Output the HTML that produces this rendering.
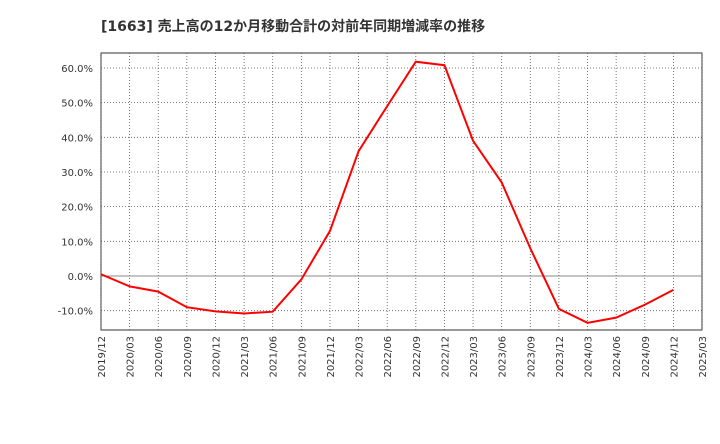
<!DOCTYPE html>
<html><head><meta charset="utf-8"><style>
body{margin:0;background:#fff;font-family:"DejaVu Sans","Noto Sans CJK JP",sans-serif;}
svg text{font-family:"DejaVu Sans","Noto Sans CJK JP",sans-serif;}
</style></head><body>
<svg id="c" width="720" height="440">
<text x="101" y="31" font-size="14" font-weight="bold" fill="#333">[1663]  売上高の12か月移動合計の対前年同期増減率の推移</text>
<rect x="101" y="53" width="601" height="277" fill="#fff" stroke="#333" stroke-width="1"/>
<g id="grid"></g><g id="ax"></g><g id="ser"></g>
</svg>
<script>
const categories=["2019/12","2020/03","2020/06","2020/09","2020/12","2021/03","2021/06","2021/09","2021/12","2022/03","2022/06","2022/09","2022/12","2023/03","2023/06","2023/09","2023/12","2024/03","2024/06","2024/09","2024/12","2025/03"];
const values=[0.5,-3,-4.5,-9,-10.2,-10.8,-10.3,-1,13,36,49,61.8,60.8,39,27,8,-9.5,-13.5,-12,-8.3,-4];
const yTicks=[-10,0,10,20,30,40,50,60];
const ns="http://www.w3.org/2000/svg";
const X0=101,X1=702,Y0=53,Y1=330;
const x=i=>X0+(X1-X0)*i/(categories.length-1);
const y=v=>276-v*3.467;
const grid=document.getElementById('grid'),ax=document.getElementById('ax'),ser=document.getElementById('ser');
function mk(t,a,p){const e=document.createElementNS(ns,t);for(const k in a)e.setAttribute(k,a[k]);p.appendChild(e);return e;}
categories.forEach((c,i)=>{
 const l=mk('line',{x1:x(i),x2:x(i),y1:Y0,y2:Y1,stroke:'#555','stroke-width':0.8,'stroke-dasharray':'1,2'},grid);
 
 
 const t=mk('text',{x:0,y:0,'font-size':10,fill:'#333','text-anchor':'end',transform:`translate(${x(i)+4},${Y1+6}) rotate(-90)`},ax);
 t.textContent=c;
 
 
});
yTicks.forEach(v=>{
 const l=mk('line',{x1:X0,x2:X1,y1:y(v),y2:y(v),stroke:v===0?'#888':'#555','stroke-width':v===0?1:0.8,'stroke-dasharray':v===0?'none':'1,2'},grid);
 
 
 const t=mk('text',{x:X0-8,y:y(v)+4,'font-size':10,fill:'#333','text-anchor':'end'},ax);
 t.textContent=v.toFixed(1)+'%';
 
 
});
const p=mk('polyline',{points:values.map((v,i)=>x(i)+','+y(v)).join(' '),fill:'none',stroke:'#f00','stroke-width':2},ser);


</script>
</body></html>
